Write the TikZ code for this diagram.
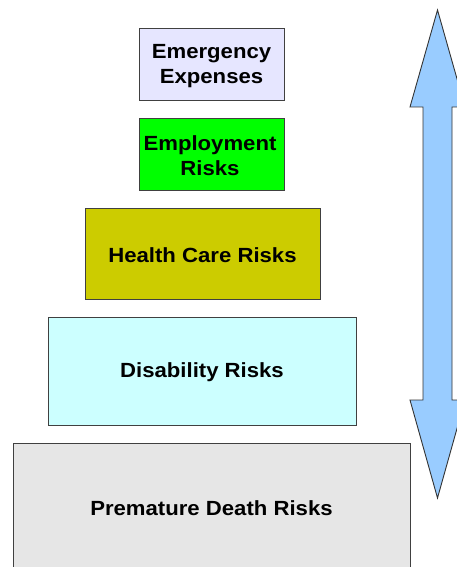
\documentclass[tikz,border=0pt]{standalone}
\usepackage{fontspec}
\setmainfont{Liberation Sans}[FakeStretch=1.08]
\begin{document}
\begin{tikzpicture}[x=1pt,y=-1pt,
  tier/.style={draw=black!75, line width=0.9pt},
  label/.style={font=\bfseries\fontsize{20.5}{25}\selectfont, align=center, text=black}]
\useasboundingbox (0,0) rectangle (457,567);
\clip (0,0) rectangle (457,567);
\definecolor{lavender}{HTML}{E6E6FF}
\definecolor{brightgreen}{HTML}{00FF00}
\definecolor{olive}{HTML}{CCCC00}
\definecolor{paleaqua}{HTML}{CCFFFF}
\definecolor{lightgray}{HTML}{E6E6E6}
\definecolor{skyblue}{HTML}{99CCFF}

% pyramid tiers
\draw[tier, fill=lavender] (139,28) rectangle (284,100);
\node[label] (emerg) at (211.5,66) {Emergency\\Expenses};
\draw[tier, fill=brightgreen] (139,118) rectangle (284,190);
\node[label] (employ) at (210,156) {Employment\\Risks};
\draw[tier, fill=olive] (85,208) rectangle (320,299);
\node[label] (health) at (202.5,255) {Health Care Risks};
\draw[tier, fill=paleaqua] (48,317) rectangle (356,425);
\node[label] (disab) at (202,372) {Disability Risks};
\draw[tier, fill=lightgray] (13,443) rectangle (410,580);
\node[label] (death) at (211.5,508) {Premature Death Risks};

% double-headed vertical arrow
\draw[black!80, line width=0.9pt, fill=skyblue, line join=miter]
  (437.5,10) -- (465,107) -- (452,107) -- (452,400) -- (465,400)
  -- (437.5,498) -- (410,400) -- (423,400) -- (423,107) -- (410,107) -- cycle;
\end{tikzpicture}
\end{document}
